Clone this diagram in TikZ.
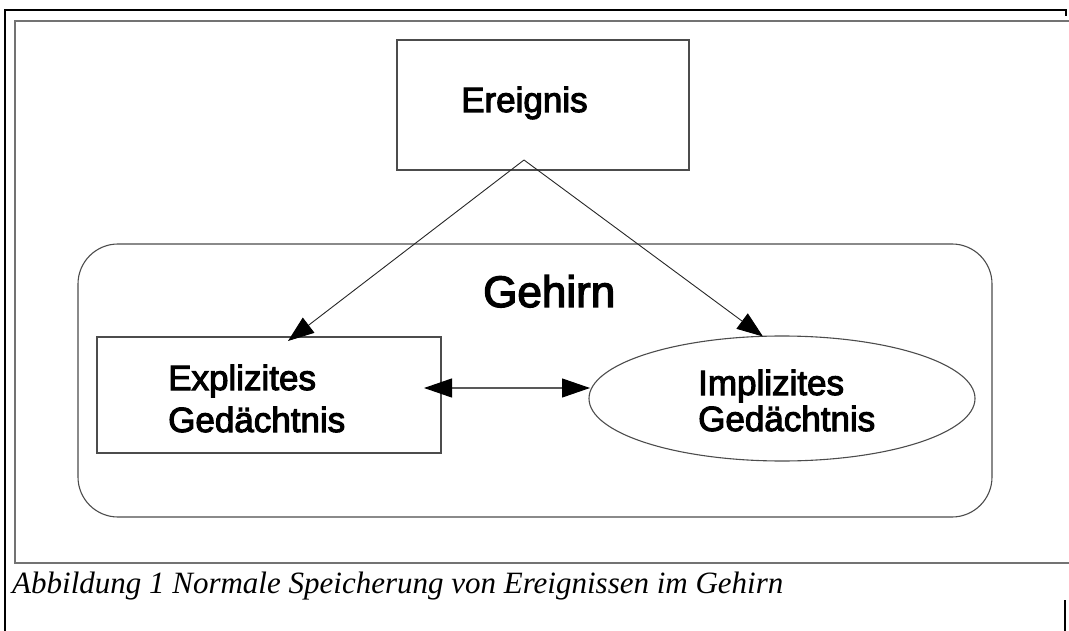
\documentclass[tikz,border=0pt]{standalone}
\usepackage{fontspec}
\setmainfont{Liberation Sans}
\newfontfamily\boxfont[FakeBold=3]{Liberation Sans}
\newfontfamily\capfont{Liberation Serif}
\usetikzlibrary{arrows.meta,shapes.geometric}
\tikzset{
  boxline/.style={draw=black!70, line width=1.1pt},
  conn/.style={draw=black!85, line width=0.9pt},
  bigtip/.style={-{Triangle[length=26pt,width=19pt,fill=black,color=black]}},
  dbltip/.style={{Triangle[length=28pt,width=19pt,fill=black,color=black]}-{Triangle[length=28pt,width=19pt,fill=black,color=black]}},
  lbl/.style={inner sep=0pt, anchor=base west, font=\boxfont\fontsize{35}{42}\selectfont},
  frameblack/.style={draw=black, line width=1.4pt},
  framegray/.style={draw=black!55, line width=2pt},
}
\begin{document}
\begin{tikzpicture}[x=1pt,y=-1pt]
\useasboundingbox (0,0) rectangle (1069,631);
% outer frames
\draw[frameblack] (5,631) -- (5,10) -- (1066,10) -- (1066,16);
\draw[frameblack] (1065,600) -- (1065,631);
\draw[framegray] (1069,21) -- (15,21) -- (15,563) -- (1069,563);
% Gehirn container
\node[boxline, rectangle, rounded corners=40pt, minimum width=914pt, minimum height=273pt, inner sep=0pt] (gehirn) at (535,380.5) {};
\node[inner sep=0pt, anchor=base west, font=\boxfont\fontsize{44}{50}\selectfont] (gehirnlbl) at (483,307) {Gehirn};
% Ereignis
\node[boxline, rectangle, minimum width=292pt, minimum height=130pt, inner sep=0pt] (ereig) at (543,105) {};
\node[lbl] (ereiglbl) at (461,112) {Ereignis};
% Explizites
\node[boxline, rectangle, minimum width=344pt, minimum height=116pt, inner sep=0pt] (expl) at (269,395) {};
\node[lbl] (explA) at (168,390) {Explizites};
\node[lbl] (explB) at (168,432) {Gedächtnis};
% Implizites
\node[boxline, ellipse, minimum width=386pt, minimum height=125pt, inner sep=0pt] (impl) at (782,398.5) {};
\node[lbl] (implA) at (698,395) {Implizites};
\node[lbl] (implB) at (698,431) {Gedächtnis};
% connectors
\coordinate (src) at (524,160);
\coordinate (tipL) at (288,341);
\coordinate (tipR) at (763,336.5);
\draw[conn, bigtip] (src) -- (tipL);
\draw[conn, bigtip] (src) -- (tipR);
\coordinate (dl) at (424,388);
\coordinate (dr) at (590,388);
\draw[draw=black!65, line width=1.1pt, dbltip] (dl) -- (dr);
% caption
\node[inner sep=0pt, anchor=base west, font=\capfont\itshape\fontsize{31}{36}\selectfont] (cap) at (12,593) {Abbildung 1 Normale Speicherung von Ereignissen im Gehirn};
\end{tikzpicture}
\end{document}
